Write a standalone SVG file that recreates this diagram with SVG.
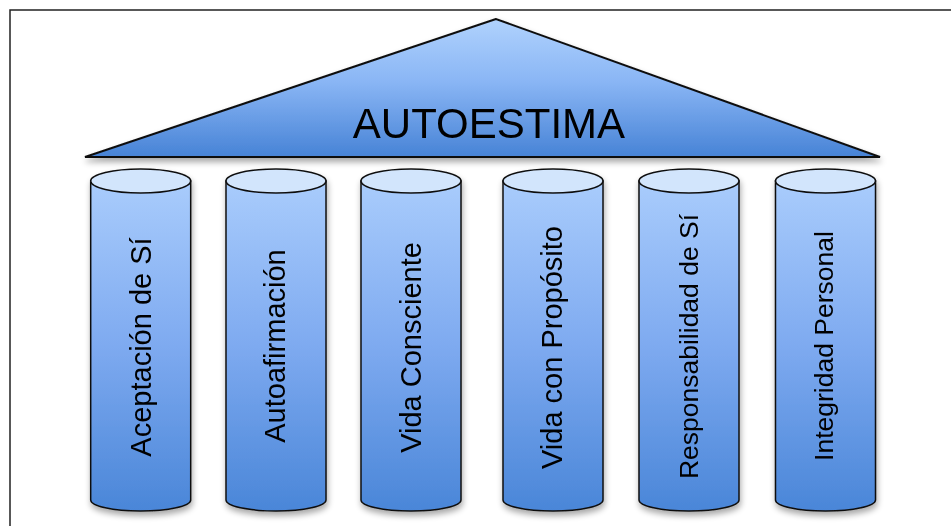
<svg xmlns="http://www.w3.org/2000/svg" width="951" height="526" viewBox="0 0 951 526">
<style>
.col{fill:url(#colG);stroke:#111;stroke-width:1.5}
.cap{fill:#d2e5fc;stroke:#111;stroke-width:1.5}
.lbl{font-family:"Liberation Sans",Arial,sans-serif;font-size:29px;fill:#000;text-anchor:middle}
.sm{font-size:26.5px}
</style>
<defs>
<linearGradient id="colG" x1="0" y1="0" x2="0" y2="1">
<stop offset="0" stop-color="#a9ccfc"/>
<stop offset="0.5" stop-color="#7eaaf0"/>
<stop offset="1" stop-color="#4a86d8"/>
</linearGradient>
<linearGradient id="roofG" x1="0" y1="0" x2="0" y2="1">
<stop offset="0" stop-color="#b0d2fd"/>
<stop offset="0.45" stop-color="#8ab6f5"/>
<stop offset="1" stop-color="#4783d6"/>
</linearGradient>
<filter id="sh" x="-20%" y="-20%" width="140%" height="140%">
<feGaussianBlur in="SourceAlpha" stdDeviation="3"/>
<feOffset dx="1" dy="4" result="b"/>
<feComponentTransfer><feFuncA type="linear" slope="0.35"/></feComponentTransfer>
<feMerge><feMergeNode/><feMergeNode in="SourceGraphic"/></feMerge>
</filter>
</defs>
<rect x="10" y="10" width="960" height="540" fill="#fff" stroke="#222" stroke-width="1.5"/>
<g id="roof" filter="url(#sh)">
<polygon points="496,19 85,157 880,157" fill="url(#roofG)" stroke="#111" stroke-width="2" stroke-linejoin="miter"/>
<text x="489" y="138" font-family="'Liberation Sans',Arial,sans-serif" font-size="42" text-anchor="middle" fill="#000">AUTOESTIMA</text>
</g>
<g id="col1" filter="url(#sh)">
<path class="col" d="M90.7,181 V500 A50,11 0 0 0 190.7,500 V181 Z"/>
<ellipse class="cap" cx="140.7" cy="181" rx="50" ry="12"/>
<text class="lbl" transform="translate(150.5,347) rotate(-90)">Aceptación de Sí</text>
</g>
<g id="col2" filter="url(#sh)">
<path class="col" d="M226,181 V500 A50,11 0 0 0 326,500 V181 Z"/>
<ellipse class="cap" cx="276" cy="181" rx="50" ry="12"/>
<text class="lbl" transform="translate(285,346) rotate(-90)">Autoafirmación</text>
</g>
<g id="col3" filter="url(#sh)">
<path class="col" d="M361,181 V500 A50,11 0 0 0 461,500 V181 Z"/>
<ellipse class="cap" cx="411" cy="181" rx="50" ry="12"/>
<text class="lbl" transform="translate(421,347.5) rotate(-90)">Vida Consciente</text>
</g>
<g id="col4" filter="url(#sh)">
<path class="col" d="M503,181 V500 A50,11 0 0 0 603,500 V181 Z"/>
<ellipse class="cap" cx="553" cy="181" rx="50" ry="12"/>
<text class="lbl" transform="translate(562,347.5) rotate(-90)">Vida con Propósito</text>
</g>
<g id="col5" filter="url(#sh)">
<path class="col" d="M639,181 V500 A50,11 0 0 0 739,500 V181 Z"/>
<ellipse class="cap" cx="689" cy="181" rx="50" ry="12"/>
<text class="lbl sm" transform="translate(698,346.5) rotate(-90)">Responsabilidad de Sí</text>
</g>
<g id="col6" filter="url(#sh)">
<path class="col" d="M775.5,181 V500 A50,11 0 0 0 875.5,500 V181 Z"/>
<ellipse class="cap" cx="825.5" cy="181" rx="50" ry="12"/>
<text class="lbl sm" transform="translate(833,346) rotate(-90)">Integridad Personal</text>
</g>
<g id="connectors"/>
</svg>
